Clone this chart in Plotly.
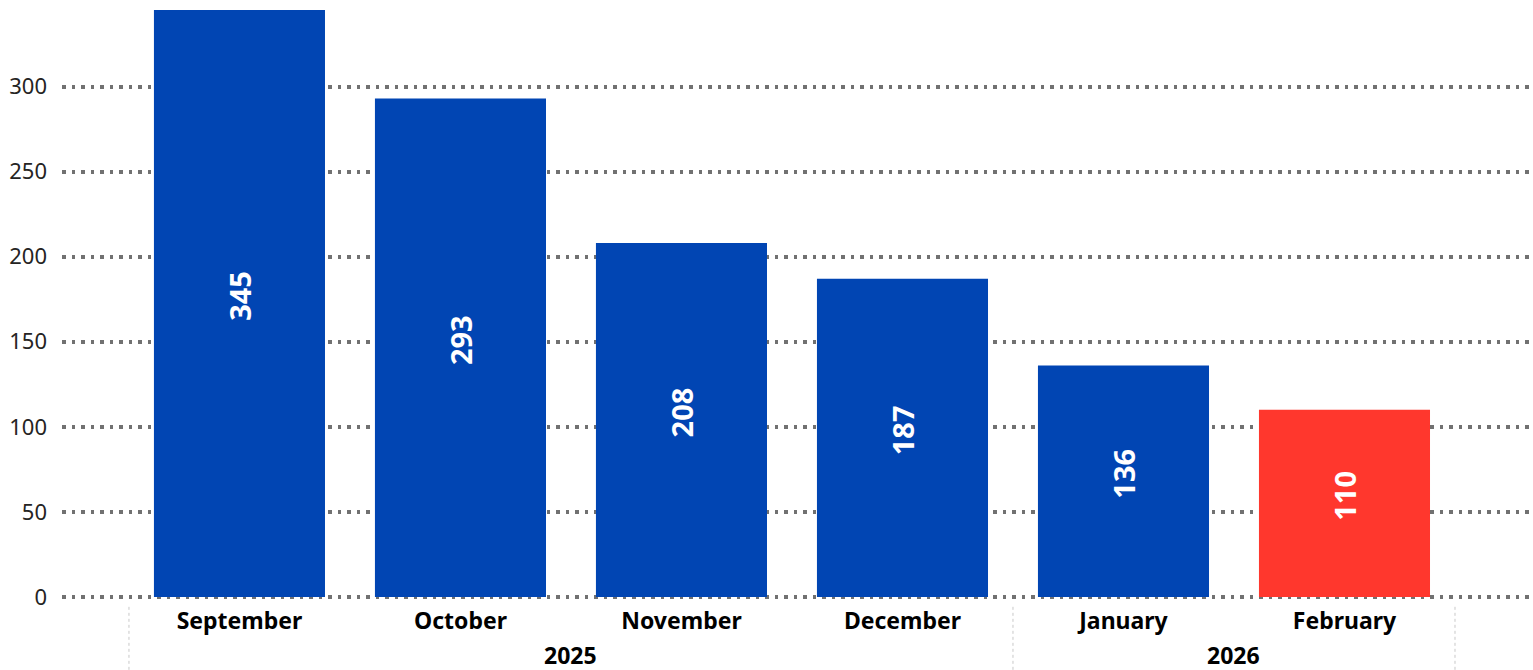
import plotly.graph_objects as go

months = ["September", "October", "November", "December", "January", "February"]
years = ["2025", "2025", "2025", "2025", "2026", "2026"]
values = [345, 293, 208, 187, 136, 110]
colors = ["#0145B3", "#0145B3", "#0145B3", "#0145B3", "#0145B3", "#FF372D"]
y_ticks = [0, 50, 100, 150, 200, 250, 300]

FONT = "Noto Sans"
xs = list(range(len(months)))

fig = go.Figure()
fig.add_trace(go.Bar(
    x=xs, y=values, width=0.774,
    marker=dict(color=colors, line=dict(width=0)),
    text=["\u00a0\u00a0" + str(v) for v in values],
    textposition="inside", textangle=-90, insidetextanchor="middle",
    insidetextfont=dict(family=FONT, size=29, color="white", weight="bold"),
    constraintext="none", cliponaxis=False, hoverinfo="skip",
))

# year groups
groups = []
for i, yv in enumerate(years):
    if groups and groups[-1][0] == yv:
        groups[-1][2] = i
    else:
        groups.append([yv, i, i])

for yv, a, b in groups:
    fig.add_annotation(x=(a + b) / 2, xref="x", y=0, yref="paper", yshift=-57,
                       text=f"<b>{yv}</b>", showarrow=False, yanchor="middle",
                       font=dict(family=FONT, size=23, color="#000"))
bounds = [groups[0][1] - 0.5] + [g[2] + 0.5 for g in groups]
for bx in bounds:
    fig.add_shape(type="line", xref="x", yref="paper", x0=bx, x1=bx, y0=-0.015, y1=-0.13,
                  line=dict(color="#c8c8c8", width=1, dash="dot"))

fig.update_layout(
    width=1533, height=670,
    margin=dict(l=62, r=0, t=10, b=72),
    paper_bgcolor="white", plot_bgcolor="white",
    showlegend=False,
    xaxis=dict(range=[-0.803, 5.853], tickvals=xs,
               ticktext=[f"<b>{m}</b>" for m in months],
               tickfont=dict(family=FONT, size=23, color="#000"),
               showgrid=False, zeroline=False, showline=False, ticks="",
               ticklabelstandoff=7),
    yaxis=dict(range=[-0.6, 345], tickvals=y_ticks,
               tickfont=dict(family=FONT, size=22, color="#252423"),
               showgrid=True, gridcolor="#717171", gridwidth=3.5, griddash="3.5px,6px",
               zeroline=False, showline=False, ticks="", ticklabelstandoff=14),
)

fig.write_html("out.html", config={"displayModeBar": False},
               post_script="document.body.style.margin='0';document.body.style.overflow='hidden';")
